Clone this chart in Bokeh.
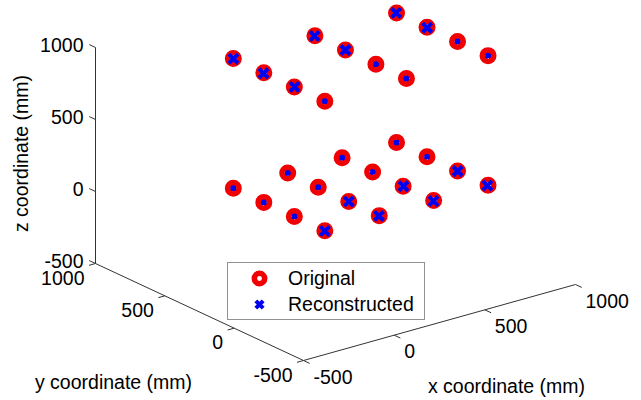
import numpy as np
from bokeh.plotting import figure
from bokeh.models import Range1d, ColumnDataSource, Legend, LegendItem
from bokeh.core.properties import value
from bokeh.embed import file_html
from bokeh.resources import INLINE

# ---------------- data (mm) ----------------
orig_x = [0, 0, 0, 0, 300, 300, 300, 300, 600, 600, 600, 600, 900, 900, 900, 900,
          0, 0, 0, 0, 450, 450, 450, 450, 900, 900, 900, 900]
orig_y = [660, 440, 220, 0, 660, 440, 220, 0, 660, 440, 220, 0, 660, 440, 220, 0,
          660, 440, 220, 0, 660, 440, 220, 0, 660, 440, 220, 0]
orig_z = [0, 0, 0, 0, 0, 0, 0, 0, 0, 0, 0, 0, 0, 0, 0, 0,
          900, 900, 900, 900, 900, 900, 900, 900, 900, 900, 900, 900]

rec_x = [3, 2, 4, -3, 304, 302, 297, 296, 603, 605, 598, 596, 902, 904, 897, 895,
         -3, -4, -2, 3, 446, 447, 454, 452, 896, 897, 903, 904]
rec_y = [664, 445, 223, -4, 663, 444, 216, -3, 665, 442, 215, -4, 664, 443, 216, -2,
         656, 437, 216, 4, 657, 436, 223, 5, 657, 435, 224, 3]
rec_z = [-2, -1, 1, 2, 1, -2, 2, 1, -1, 0, 3, -1, -3, 1, 2, 1,
         902, 899, 903, 898, 901, 902, 899, 897, 903, 900, 898, 901]

x_ticks = [-500, 0, 500, 1000]
y_ticks = [-500, 0, 500, 1000]
z_ticks = [-500, 0, 500, 1000]
x_lim = (-500, 1000)
y_lim = (-500, 1000)
z_lim = (-500, 1000)
x_title = "x coordinate (mm)"
y_title = "y coordinate (mm)"
z_title = "z coordinate (mm)"
series_names = ["Original", "Reconstructed"]

# ---------------- 3-D view (orthographic) ----------------
W, H = 641, 400
ORIGIN = (303.0, 360.0)              # screen position of (xmin, ymin, zmin)
DX = (272 / 1500, -76 / 1500)        # screen px per mm along x
DY = (-208 / 1500, -97 / 1500)       # along y
DZ = (0.0, -216 / 1500)              # along z
TICK = 45.0                          # tick length in mm
FONT = "Liberation Sans"
FS = "19.5px"
AXC = "#333333"


def proj(x, y, z):
    x = np.asarray(x, float) - x_lim[0]
    y = np.asarray(y, float) - y_lim[0]
    z = np.asarray(z, float) - z_lim[0]
    sx = ORIGIN[0] + x * DX[0] + y * DY[0] + z * DZ[0]
    sy = ORIGIN[1] + x * DX[1] + y * DY[1] + z * DZ[1]
    return sx, sy


# direction toward the viewer (for hidden-marker ordering)
a = np.array([DX[0], DY[0], DZ[0]])
b = -np.array([DX[1], DY[1], DZ[1]])
s1 = np.sqrt(-a[0] * b[0] / (a[1] * b[1]))
s3 = b[2] / np.sqrt(a[0] ** 2 / s1 ** 2 + a[1] ** 2 - b[0] ** 2 / s1 ** 2 - b[1] ** 2)
S = np.array([s1, 1.0, s3])
toward = np.cross(a / S, b / S) * S


def closeness(x, y, z):
    return toward[0] * np.asarray(x, float) + toward[1] * np.asarray(y, float) + toward[2] * np.asarray(z, float)


front = closeness(rec_x, rec_y, rec_z) >= closeness(orig_x, orig_y, orig_z)

p = figure(width=W, height=H, output_backend="svg", toolbar_location=None,
           x_range=Range1d(0, W), y_range=Range1d(H, 0),
           x_axis_location=None, y_axis_location=None, min_border=0)
p.grid.visible = False
p.outline_line_color = None
p.background_fill_color = "white"
p.border_fill_color = "white"

# ---------------- axes ----------------
xs0, ys0, xs1, ys1 = [], [], [], []


def seg(p0, p1):
    a0 = proj(*p0)
    a1 = proj(*p1)
    xs0.append(float(a0[0])); ys0.append(float(a0[1]))
    xs1.append(float(a1[0])); ys1.append(float(a1[1]))


seg((x_lim[0], y_lim[0], z_lim[0]), (x_lim[1], y_lim[0], z_lim[0]))   # x axis
seg((x_lim[0], y_lim[0], z_lim[0]), (x_lim[0], y_lim[1], z_lim[0]))   # y axis
seg((x_lim[0], y_lim[1], z_lim[0]), (x_lim[0], y_lim[1], z_lim[1]))   # z axis
for t in x_ticks:
    seg((t, y_lim[0], z_lim[0]), (t, y_lim[0] - TICK, z_lim[0]))
for t in y_ticks:
    seg((x_lim[0], t, z_lim[0]), (x_lim[0] - TICK * 0.8, t, z_lim[0]))
for t in z_ticks:
    seg((x_lim[0], y_lim[1], t), (x_lim[0], y_lim[1] + TICK, t))
p.segment(xs0, ys0, xs1, ys1, line_color=AXC, line_width=1)

TXT = dict(text_font=value(FONT), text_font_size=value(FS), text_color="black",
           text_baseline="middle")

# tick labels
tx, ty = proj(x_ticks, [y_lim[0]] * len(x_ticks), [z_lim[0]] * len(x_ticks))
p.text(tx, ty, text=[str(t) for t in x_ticks], text_align="left",
       x_offset=10, y_offset=16, **TXT)
tx, ty = proj([x_lim[0]] * len(y_ticks), y_ticks, [z_lim[0]] * len(y_ticks))
p.text(tx, ty, text=[str(t) for t in y_ticks], text_align="right",
       x_offset=-11, y_offset=14, **TXT)
tx, ty = proj([x_lim[0]] * len(z_ticks), [y_lim[1]] * len(z_ticks), z_ticks)
p.text(tx, ty, text=[str(t) for t in z_ticks], text_align="right",
       x_offset=-12, y_offset=-3, **TXT)

# axis titles
mx, my = proj([sum(x_lim) / 2], [y_lim[0]], [z_lim[0]])
p.text(mx, my, text=[x_title], text_align="center", x_offset=67, y_offset=63, **TXT)
mx, my = proj([x_lim[0]], [sum(y_lim) / 2], [z_lim[0]])
p.text(mx, my, text=[y_title], text_align="center", x_offset=-86, y_offset=70, **TXT)
mx, my = proj([x_lim[0]], [y_lim[1]], [sum(z_lim) / 2])
p.text(mx, my, text=[z_title], text_align="center", x_offset=-75, y_offset=-2,
       angle=np.pi / 2, **TXT)

# ---------------- markers ----------------
ox, oy = proj(orig_x, orig_y, orig_z)
rx, ry = proj(rec_x, rec_y, rec_z)
back_src = ColumnDataSource(dict(x=rx[~front], y=ry[~front]))
front_src = ColumnDataSource(dict(x=rx[front], y=ry[front]))
orig_src = ColumnDataSource(dict(x=ox, y=oy))

RED = "#f00000"
BLUE = "#0000f0"
# reconstructed markers hidden behind the ring (only the centre shows through)
p.scatter("x", "y", source=back_src, marker="x", size=13, line_color=BLUE, line_width=4)
ring = p.scatter("x", "y", source=orig_src, marker="circle", size=11.5, fill_color=None,
                 line_color=RED, line_width=5.5)
rec = p.scatter("x", "y", source=front_src, marker="x", size=13, line_color=BLUE, line_width=4)

legend = Legend(items=[LegendItem(label=series_names[0], renderers=[ring]),
                       LegendItem(label=series_names[1], renderers=[rec])],
                location=(227, 80), orientation="vertical",
                label_text_font=FONT, label_text_font_size=FS, label_text_color="black",
                glyph_height=26, glyph_width=58, label_height=26, label_standoff=0,
                label_width=134, padding=2, spacing=0, margin=0,
                border_line_color="#262626", border_line_width=1,
                background_fill_color="white", background_fill_alpha=1.0)
p.add_layout(legend, "center")

open("out.html", "w").write(file_html(p, INLINE))
